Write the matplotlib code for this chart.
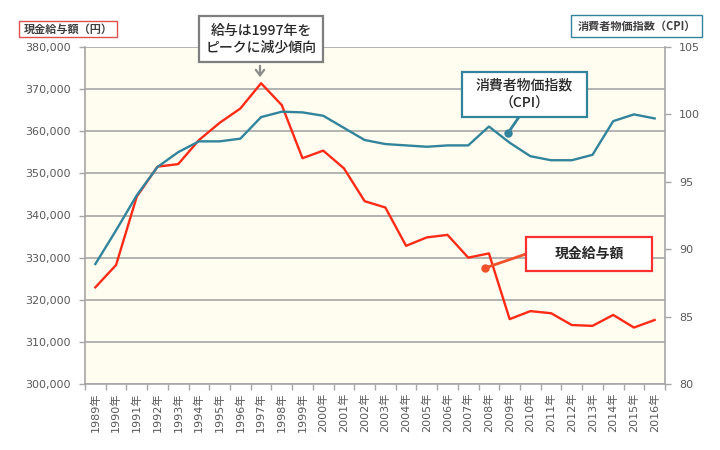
import matplotlib
matplotlib.use("Agg")
import matplotlib.pyplot as plt
from matplotlib.patches import Rectangle
from matplotlib.lines import Line2D
from matplotlib.ticker import FuncFormatter, FixedLocator

plt.rcParams['font.family'] = ['Noto Sans CJK JP', 'DejaVu Sans']

years = [f"{y}年" for y in range(1989, 2017)]
wage = [322950, 328250, 344500, 351600, 352200, 357900, 362000, 365400,
        371400, 366200, 353600, 355400, 351200, 343400, 341900, 332800,
        334800, 335400, 330000, 331000, 315400, 317300, 316800, 314000,
        313800, 316400, 313400, 315200]
cpi = [88.9, 91.4, 94.0, 96.1, 97.2, 98.0, 98.0, 98.2, 99.8, 100.2,
       100.15, 99.9, 99.0, 98.1, 97.8, 97.7, 97.6, 97.7, 97.7, 99.1,
       97.9, 96.9, 96.6, 96.6, 97.0, 99.5, 100.0, 99.7]
wage_ticks = [300000, 310000, 320000, 330000, 340000, 350000, 360000, 370000, 380000]
cpi_ticks = [80, 85, 90, 95, 100, 105]

RED = '#FF2B17'
TEAL = '#31849B'
GRID = '#A6A6A6'
TXT = '#595959'

W, H = 720, 450
fig = plt.figure(figsize=(7.2, 4.5), dpi=100)
fig.patch.set_facecolor('white')

def fx(x):
    return x / W

def fy(y):
    return 1 - y / H

ax = fig.add_axes([fx(85), fy(384), fx(665) - fx(85), fy(47) - fy(384)])
ax.set_facecolor('#FFFDF0')
x = list(range(len(years)))
ax.plot(x, wage, color=RED, lw=1.7, zorder=3)
ax.set_xlim(-0.5, len(years) - 0.5)
ax.set_ylim(300000, 380000)
ax.yaxis.set_major_locator(FixedLocator(wage_ticks))
ax.yaxis.set_major_formatter(FuncFormatter(lambda v, p: f"{int(v):,}"))
ax.grid(axis='y', color=GRID, lw=1.2)
ax.set_axisbelow(True)
ax.set_xticks(x)
ax.set_xticklabels(years, rotation=90, fontsize=8, color=TXT,
                   family=['DejaVu Sans', 'Noto Sans CJK JP'])
ax.tick_params(axis='x', length=0, pad=6)
ax.set_xticks([i - 0.5 for i in range(len(years) + 1)], minor=True)
ax.tick_params(axis='x', which='minor', length=4, color=GRID, width=1)
for lab in ax.get_yticklabels():
    lab.set_family('DejaVu Sans')
ax.tick_params(axis='y', labelsize=8, labelcolor=TXT, length=4, color=GRID, width=1, pad=6)
for s in ['top', 'right']:
    ax.spines[s].set_visible(False)
for s in ['left', 'bottom']:
    ax.spines[s].set_color(GRID)
    ax.spines[s].set_linewidth(1.2)

ax2 = ax.twinx()
ax2.plot(x, cpi, color=TEAL, lw=1.7, zorder=3)
ax2.set_ylim(80, 105)
ax2.yaxis.set_major_locator(FixedLocator(cpi_ticks))
ax2.tick_params(axis='y', labelsize=8, labelcolor=TXT, length=4, color=GRID, width=1, pad=6)
for lab in ax2.get_yticklabels():
    lab.set_family('DejaVu Sans')
for s in ['top', 'left', 'bottom']:
    ax2.spines[s].set_visible(False)
ax2.spines['right'].set_color(GRID)
ax2.spines['right'].set_linewidth(1.2)


def box(x0, y0, x1, y1, ec, lw=1.2, z=10):
    r = Rectangle((fx(x0), fy(y1)), fx(x1) - fx(x0), fy(y0) - fy(y1),
                  transform=fig.transFigure, facecolor='white', edgecolor=ec,
                  lw=lw, zorder=z)
    fig.add_artist(r)


def label(xc, yc, s, size, weight='normal', color='#262626', ls=1.3):
    fig.text(fx(xc), fy(yc), s, ha='center', va='center', fontsize=size,
             fontweight=weight, color=color, linespacing=ls, zorder=11)


def seg(x0, y0, x1, y1, c, lw=1.5):
    fig.add_artist(Line2D([fx(x0), fx(x1)], [fy(y0), fy(y1)], color=c, lw=lw,
                          transform=fig.transFigure, zorder=9))


def dot(xc, yc, c, r=3.5):
    fig.add_artist(Line2D([fx(xc)], [fy(yc)], marker='o', ms=r * 2 * 0.72,
                          color=c, transform=fig.transFigure, zorder=9))

# axis title boxes
box(19, 21, 117, 37, '#E05050', lw=1.0)
label(68, 29, "現金給与額（円）", 8, weight='bold', color='#404040')
box(571, 15, 702, 37, TEAL, lw=1.0)
label(636.5, 26, "消費者物価指数（CPI）", 8, weight='bold', color='#404040')

# peak annotation
box(199, 16, 323, 62, '#7F7F7F', lw=1.6)
label(261, 39, "給与は1997年を\nピークに減少傾向", 10, weight='medium', color='#262626', ls=1.25)
fig.add_artist(matplotlib.patches.FancyArrowPatch(
    (fx(260), fy(63)), (fx(260), fy(80)), transform=fig.transFigure,
    arrowstyle='->,head_length=4,head_width=3', color='#8C8C8C', lw=1.6,
    mutation_scale=1, zorder=9))

# CPI callout
seg(519, 117, 508, 133, TEAL, lw=2)
dot(508, 133, TEAL)
box(462, 72, 587, 117, TEAL, lw=1.6)
label(524.5, 94.5, "消費者物価指数\n（CPI）", 10, weight='medium', color='#262626', ls=1.3)

# wage callout
seg(526, 254, 485, 268, '#F0502A', lw=2)
dot(485, 268, '#F0502A')
box(526, 237, 652, 271, '#FF3030', lw=1.6)
label(589, 254, "現金給与額", 10, weight='bold', color='#262626')

fig.savefig("out.png", dpi=100)
